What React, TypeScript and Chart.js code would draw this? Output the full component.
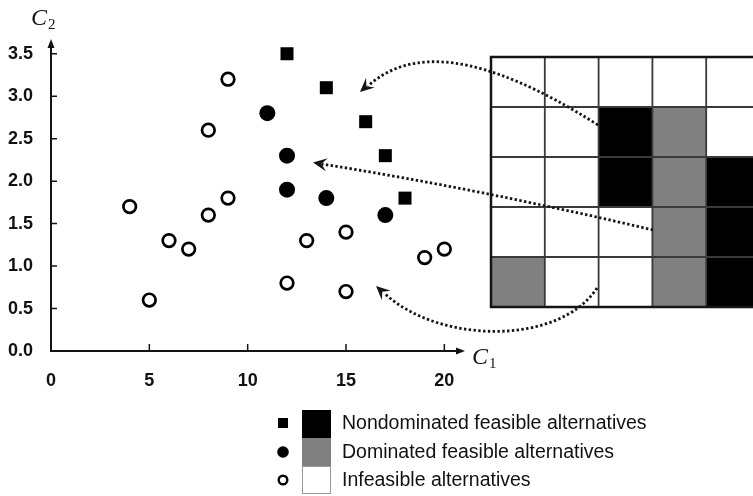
import React, { useEffect, useRef } from "react";
import { Chart, registerables } from "chart.js";

Chart.register(...registerables);

// ---- data ----
const nondominatedX = [12, 14, 16, 17, 18];
const nondominatedY = [3.5, 3.1, 2.7, 2.3, 1.8];
const dominatedX = [11, 12, 12, 14, 17];
const dominatedY = [2.8, 2.3, 1.9, 1.8, 1.6];
const infeasibleX = [4, 5, 6, 7, 8, 9, 8, 9, 12, 13, 15, 15, 19, 20];
const infeasibleY = [1.7, 0.6, 1.3, 1.2, 1.6, 1.8, 2.6, 3.2, 0.8, 1.3, 1.4, 0.7, 1.1, 1.2];
const xTickValues = [0, 5, 10, 15, 20];
const yTickValues = [0, 0.5, 1, 1.5, 2, 2.5, 3, 3.5];
// grid overlay: 0 = infeasible (white), 1 = dominated (gray), 2 = nondominated (black)
const gridRow0 = [0, 0, 0, 0, 0];
const gridRow1 = [0, 0, 2, 1, 0];
const gridRow2 = [0, 0, 2, 1, 2];
const gridRow3 = [0, 0, 0, 1, 2];
const gridRow4 = [1, 0, 0, 1, 2];
const legendLabels = [
  "Nondominated feasible alternatives",
  "Dominated feasible alternatives",
  "Infeasible alternatives",
];

const toPts = (xs: number[], ys: number[]) => xs.map((x, i) => ({ x, y: ys[i] }));

const INK = "#141414";
const GRAY = "#808080";

function arrowHead(ctx: CanvasRenderingContext2D, tx: number, ty: number, dx: number, dy: number) {
  const a = Math.atan2(dy, dx);
  const L = 14, W = 6.5, N = 8.5;
  ctx.save();
  ctx.translate(tx, ty);
  ctx.rotate(a);
  ctx.beginPath();
  ctx.moveTo(0, 0);
  ctx.lineTo(-L, -W);
  ctx.lineTo(-N, 0);
  ctx.lineTo(-L, W);
  ctx.closePath();
  ctx.fillStyle = INK;
  ctx.fill();
  ctx.restore();
}

const overlayPlugin = {
  id: "overlay",
  afterDraw(chart: any) {
    const ctx: CanvasRenderingContext2D = chart.ctx;
    const xs = chart.scales.x;
    const ys = chart.scales.y;
    const left = chart.chartArea.left;
    const bottom = chart.chartArea.bottom;
    const top = chart.chartArea.top;
    const right = chart.chartArea.right;
    ctx.save();

    // axes
    ctx.strokeStyle = INK;
    ctx.lineWidth = 2;
    ctx.beginPath();
    ctx.moveTo(left, top + 4);
    ctx.lineTo(left, bottom);
    ctx.lineTo(right - 4, bottom);
    ctx.stroke();
    ctx.fillStyle = INK;
    ctx.beginPath();
    ctx.moveTo(left, top - 2);
    ctx.lineTo(left - 3.5, top + 7);
    ctx.lineTo(left + 3.5, top + 7);
    ctx.closePath();
    ctx.fill();
    ctx.beginPath();
    ctx.moveTo(right + 1, bottom);
    ctx.lineTo(right - 8, bottom - 3.5);
    ctx.lineTo(right - 8, bottom + 3.5);
    ctx.closePath();
    ctx.fill();

    // inward tick marks
    ctx.lineWidth = 1.5;
    ctx.beginPath();
    yTickValues.forEach((v) => {
      if (v === 0) return;
      const py = ys.getPixelForValue(v);
      ctx.moveTo(left, py);
      ctx.lineTo(left + 6, py);
    });
    xTickValues.forEach((v) => {
      if (v === 0) return;
      const px = xs.getPixelForValue(v);
      ctx.moveTo(px, bottom);
      ctx.lineTo(px, bottom - 7);
    });
    ctx.stroke();

    // axis titles
    ctx.fillStyle = INK;
    ctx.textBaseline = "alphabetic";
    ctx.textAlign = "left";
    ctx.font = "italic 24px 'Liberation Serif'";
    ctx.fillText("C", 31, 25);
    ctx.fillText("C", 472, 364);
    ctx.font = "15px 'Liberation Serif'";
    ctx.fillText("2", 48, 29);
    ctx.fillText("1", 489, 368);

    // grid overlay
    const rows = [gridRow0, gridRow1, gridRow2, gridRow3, gridRow4];
    const gx0 = 491, gy0 = 57, cw = 53.8, ch = 50;
    rows.forEach((row, r) => {
      row.forEach((c, k) => {
        ctx.fillStyle = c === 2 ? "#000" : c === 1 ? GRAY : "#fff";
        ctx.fillRect(gx0 + k * cw, gy0 + r * ch, cw, ch);
      });
    });
    ctx.strokeStyle = "#3a3a3a";
    ctx.lineWidth = 1.8;
    ctx.beginPath();
    for (let k = 1; k <= 5; k++) {
      ctx.moveTo(gx0 + k * cw, gy0);
      ctx.lineTo(gx0 + k * cw, gy0 + 5 * ch);
    }
    for (let r = 1; r < 5; r++) {
      ctx.moveTo(gx0, gy0 + r * ch);
      ctx.lineTo(gx0 + 5 * cw, gy0 + r * ch);
    }
    ctx.stroke();
    ctx.strokeStyle = INK;
    ctx.lineWidth = 2.5;
    ctx.strokeRect(gx0, gy0, 5 * cw + 10, 5 * ch);

    // dotted arrows
    ctx.strokeStyle = INK;
    ctx.lineWidth = 2.8;
    ctx.setLineDash([2.4, 2.4]);
    ctx.beginPath();
    ctx.moveTo(598, 125);
    ctx.bezierCurveTo(480, 50, 410, 48, 368, 86);
    ctx.stroke();
    ctx.beginPath();
    ctx.moveTo(653, 230);
    ctx.quadraticCurveTo(484, 190, 322, 164);
    ctx.stroke();
    ctx.beginPath();
    ctx.moveTo(597, 288);
    ctx.bezierCurveTo(560, 345, 440, 345, 384, 293);
    ctx.stroke();
    ctx.setLineDash([]);
    arrowHead(ctx, 360, 92, -48, 43);
    arrowHead(ctx, 313, 162.5, -169, -27);
    arrowHead(ctx, 376, 286, -62, -57);

    // legend
    const lx = 283;
    const rowY = [423, 452, 480];
    ctx.fillStyle = "#000";
    ctx.fillRect(lx - 5, rowY[0] - 5, 10, 10);
    ctx.beginPath();
    ctx.arc(lx, rowY[1], 5.8, 0, Math.PI * 2);
    ctx.fill();
    ctx.beginPath();
    ctx.arc(lx, rowY[2], 4.3, 0, Math.PI * 2);
    ctx.lineWidth = 2.4;
    ctx.strokeStyle = "#000";
    ctx.stroke();
    ctx.fillStyle = "#000";
    ctx.fillRect(302, 410, 29, 28);
    ctx.fillStyle = GRAY;
    ctx.fillRect(302, 438, 29, 28);
    ctx.strokeStyle = "#999";
    ctx.lineWidth = 1;
    ctx.strokeRect(302.5, 466.5, 28, 27);
    ctx.fillStyle = "#111";
    ctx.font = "19.5px 'Liberation Sans', Arial, sans-serif";
    ctx.textBaseline = "middle";
    legendLabels.forEach((t, i) => ctx.fillText(t, 342, rowY[i] + 1));

    ctx.restore();
  },
};

export default function App() {
  const ref = useRef<HTMLCanvasElement | null>(null);
  useEffect(() => {
    document.body.style.margin = "0";
    const canvas = ref.current;
    if (!canvas) return;
    const tickFont = { family: "'Liberation Sans', Arial, sans-serif", size: 18, weight: "bold" as const };
    const chart = new Chart(canvas, {
      type: "scatter",
      data: {
        datasets: [
          {
            label: legendLabels[0],
            data: toPts(nondominatedX, nondominatedY),
            pointStyle: "rect",
            pointRadius: 9.2,
            pointBackgroundColor: "#000",
            pointBorderWidth: 0,
          },
          {
            label: legendLabels[1],
            data: toPts(dominatedX, dominatedY),
            pointStyle: "circle",
            pointRadius: 8,
            pointBackgroundColor: "#000",
            pointBorderWidth: 0,
          },
          {
            label: legendLabels[2],
            data: toPts(infeasibleX, infeasibleY),
            pointStyle: "circle",
            pointRadius: 6.3,
            pointBackgroundColor: "#fff",
            pointBorderColor: "#000",
            pointBorderWidth: 2.7,
          },
        ],
      },
      options: {
        animation: false,
        responsive: false,
        layout: { padding: { left: 0, top: 41, right: 289, bottom: 105 } },
        plugins: { legend: { display: false }, tooltip: { enabled: false } },
        scales: {
          x: {
            type: "linear",
            min: 0,
            max: 21,
            grid: { display: false, drawTicks: false },
            border: { display: false },
            afterBuildTicks: (s: any) => {
              s.ticks = xTickValues.map((v) => ({ value: v }));
            },
            afterFit: (s: any) => {
              s.height = 40;
              s.paddingLeft = 0;
              s.paddingRight = 0;
            },
            ticks: { font: tickFont, color: "#111", padding: 19, maxRotation: 0, autoSkip: false },
          },
          y: {
            type: "linear",
            min: 0,
            max: 3.65,
            grid: { display: false, drawTicks: false },
            border: { display: false },
            afterBuildTicks: (s: any) => {
              s.ticks = yTickValues.map((v) => ({ value: v }));
            },
            afterFit: (s: any) => {
              s.width = 51;
              s.paddingTop = 0;
              s.paddingBottom = 0;
            },
            ticks: {
              font: tickFont,
              color: "#111",
              padding: 18,
              autoSkip: false,
              callback: (v: any) => Number(v).toFixed(1),
            },
          },
        },
      },
      plugins: [overlayPlugin],
    });
    return () => chart.destroy();
  }, []);
  return (
    <div style={{ width: 753, height: 496, position: "relative", background: "#fff" }}>
      <canvas ref={ref} width={753} height={496} style={{ display: "block" }} />
    </div>
  );
}
